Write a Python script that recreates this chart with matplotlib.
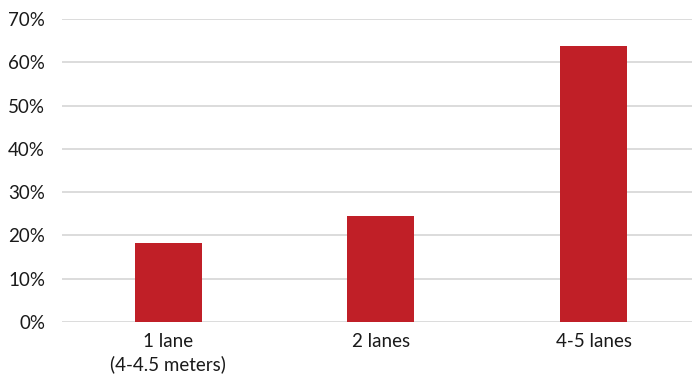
import matplotlib
matplotlib.use("Agg")
import matplotlib.pyplot as plt
from matplotlib.ticker import PercentFormatter

# share of roads by number of lanes
categories = ["1 lane\n(4-4.5 meters)", "2 lanes", "4-5 lanes"]
shares = [18.3, 24.5, 63.8]
yticks = [0, 10, 20, 30, 40, 50, 60, 70]

plt.rcParams['font.family'] = ['Lato', 'DejaVu Sans']

fig = plt.figure(figsize=(6.92, 3.80), dpi=100)
ax = fig.add_axes([0.0892, 0.1526, 0.9224, 0.797])

x = range(len(categories))
ax.bar(x, shares, width=0.315, color="#C01F27", zorder=3)

ax.set_xlim(-0.5, len(categories) - 0.5)
ax.set_ylim(0, 70)
ax.set_yticks(yticks)
ax.yaxis.set_major_formatter(PercentFormatter(decimals=0))
ax.set_xticks(list(x))
ax.set_xticklabels(categories, linespacing=1.35)

ax.grid(axis="y", color="#D9D9D9", linewidth=1.3, zorder=0)
for s in ax.spines.values():
    s.set_visible(False)
ax.tick_params(axis="both", length=0, labelsize=13.5, colors="#1a1a1a")
ax.tick_params(axis="y", pad=12)
ax.tick_params(axis="x", pad=8)

fig.savefig("out.png", dpi=100)
